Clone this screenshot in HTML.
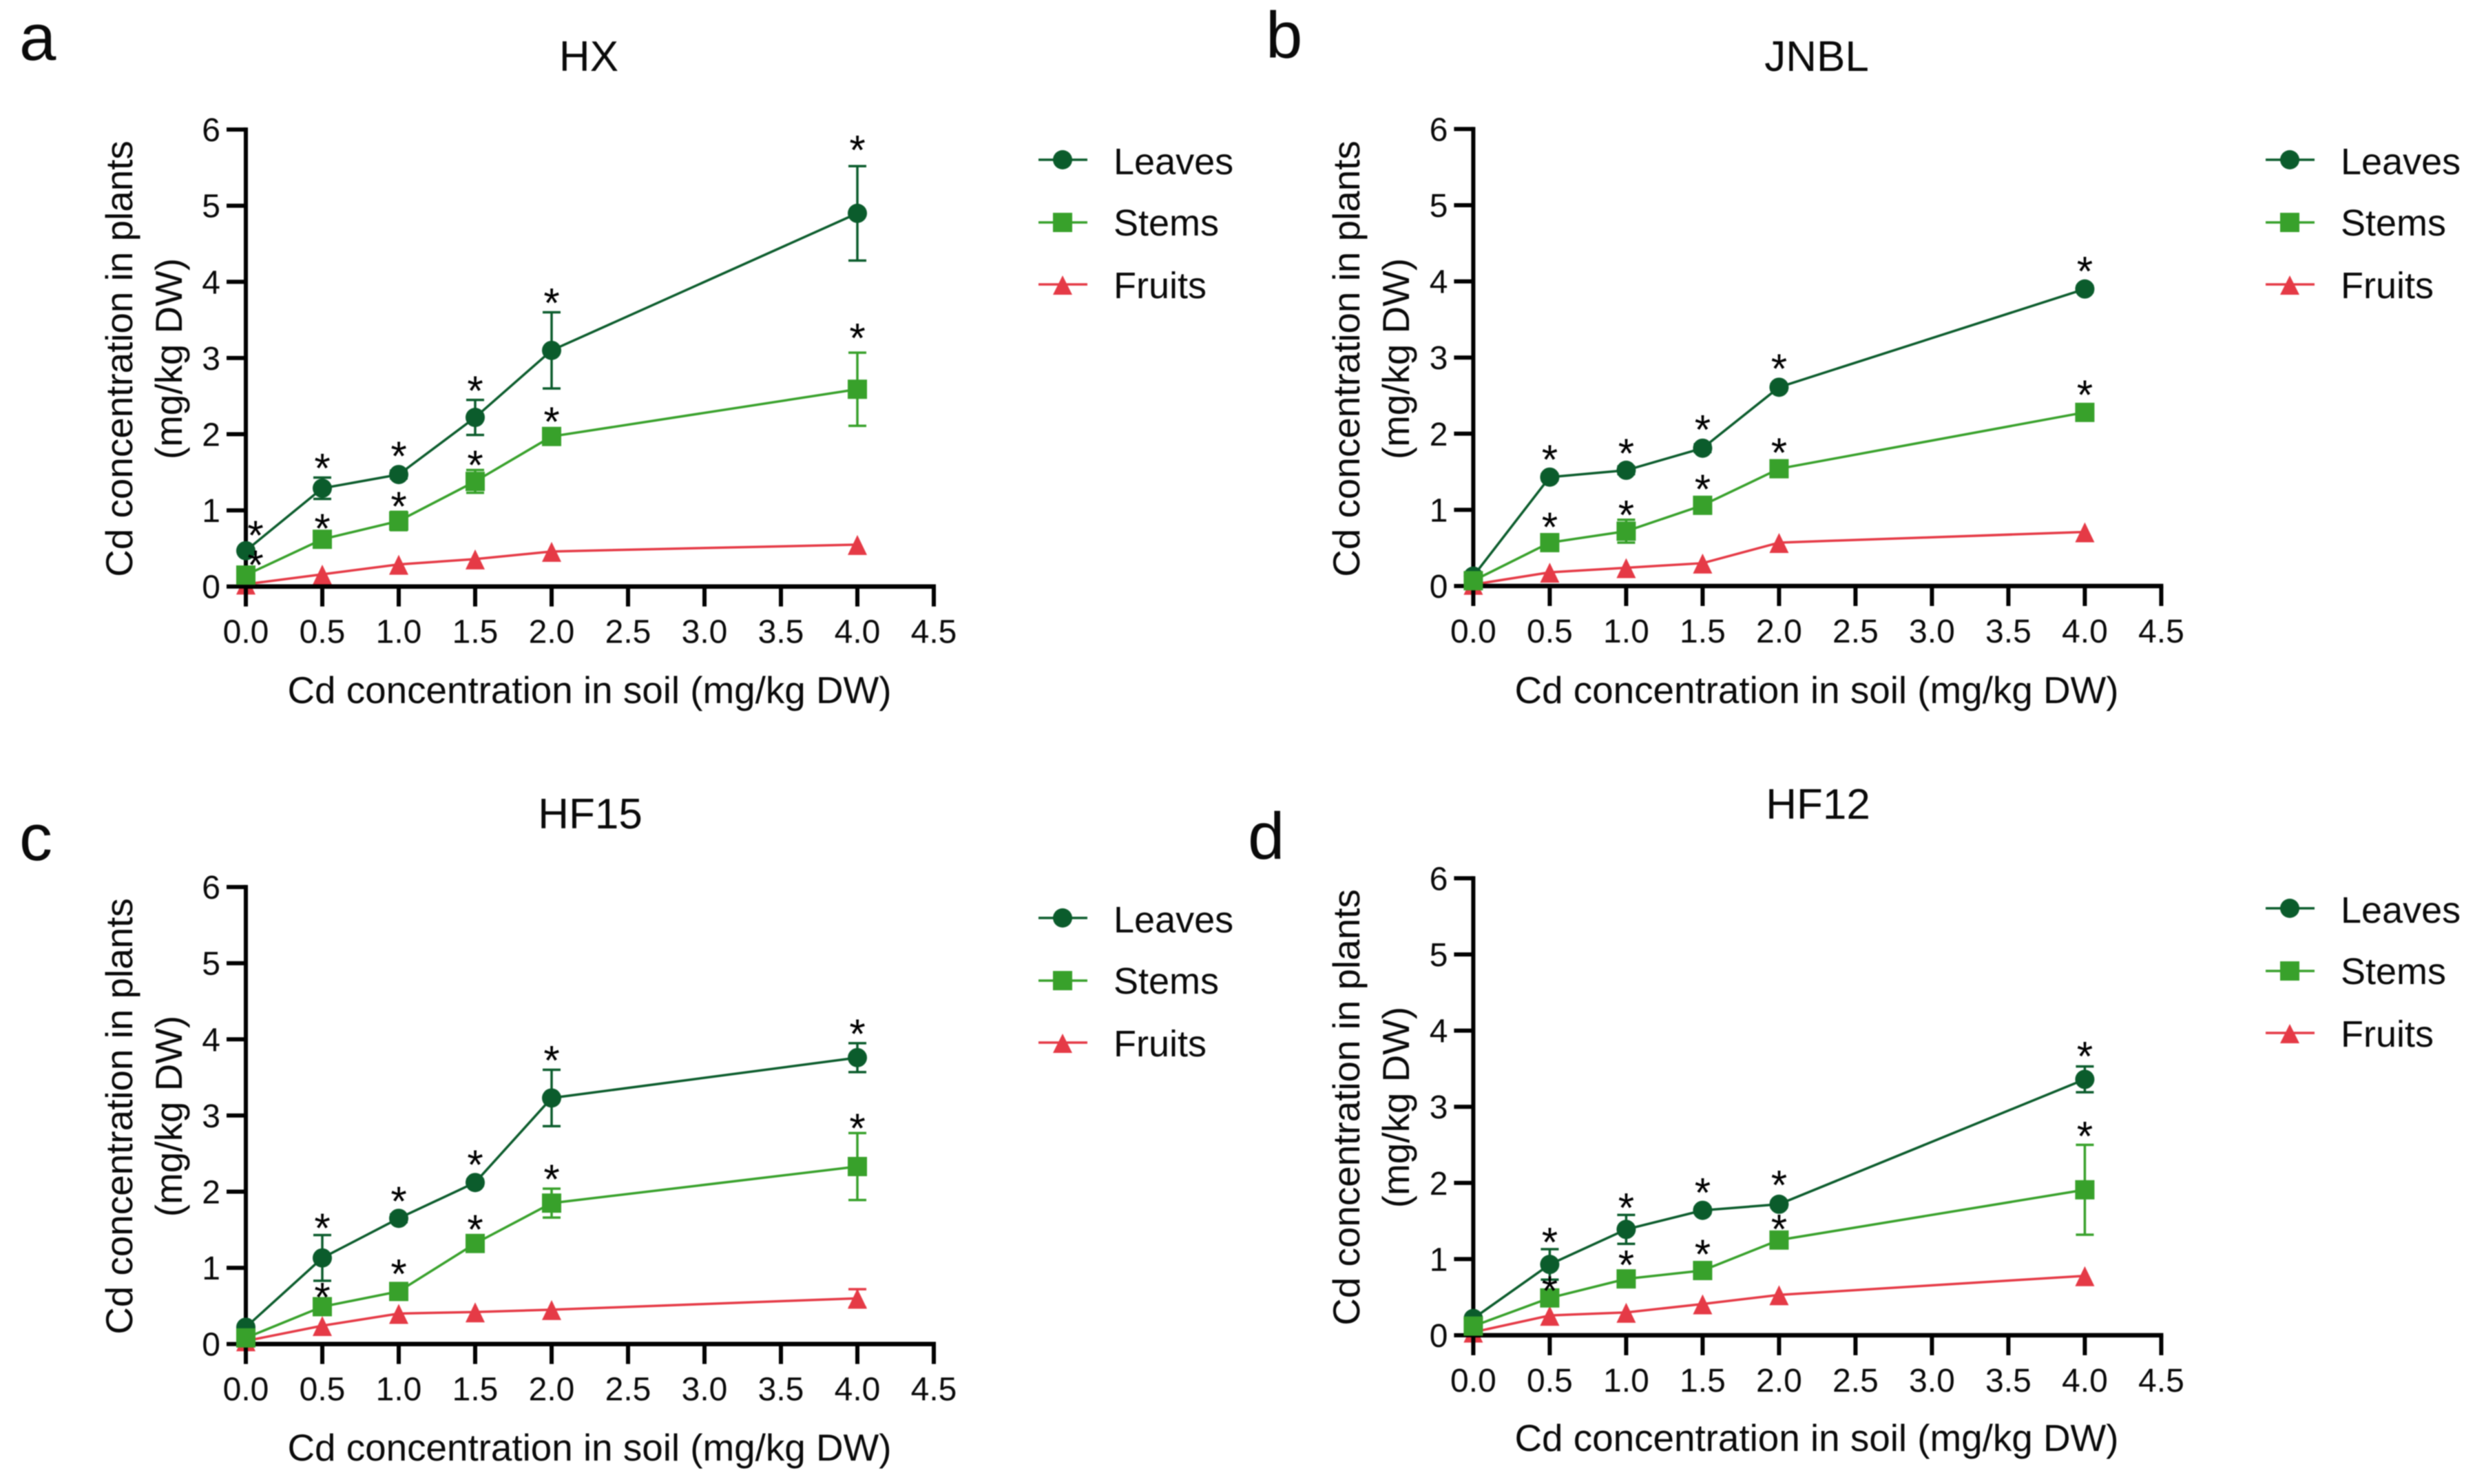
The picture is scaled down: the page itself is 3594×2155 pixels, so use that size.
<!DOCTYPE html>
<html lang="en">
<head>
<meta charset="utf-8">
<title>Cd concentration in plants</title>
<style>
html,body{margin:0;padding:0;background:#fff;width:3594px;height:2155px;overflow:hidden}
svg{display:block;filter:blur(0.7px)}
text{font-family:"Liberation Sans",Arial,sans-serif;fill:#0a0a0a}
.letter{font-size:96px}
.title{font-size:62px;text-anchor:middle}
.axis-title{font-size:54.8px;text-anchor:middle}
.legend-text{font-size:54px}
.tick{font-size:48px}
.star{font-size:60px;text-anchor:middle;fill:#000}
</style>
</head>
<body>
<svg id="figure" xmlns="http://www.w3.org/2000/svg" width="3594" height="2155" viewBox="0 0 3594 2155">
  <rect width="3594" height="2155" fill="#fff"/>

  <text class="letter" x="28" y="87">a</text>
  <text class="letter" x="1838" y="84">b</text>
  <text class="letter" x="28" y="1249">c</text>
  <text class="letter" x="1812" y="1247">d</text>

  <text class="title" x="855" y="103">HX</text>
  <text class="title" x="2638" y="103">JNBL</text>
  <text class="title" x="857" y="1203">HF15</text>
  <text class="title" x="2640" y="1189">HF12</text>

  <text class="axis-title" transform="translate(192 521) rotate(-90)">Cd concentration in plants</text>
  <text class="axis-title" transform="translate(264 521) rotate(-90)">(mg/kg DW)</text>
  <text class="axis-title" x="856" y="1021">Cd concentration in soil (mg/kg DW)</text>

  <text class="axis-title" transform="translate(1974 521) rotate(-90)">Cd concentration in plants</text>
  <text class="axis-title" transform="translate(2046 521) rotate(-90)">(mg/kg DW)</text>
  <text class="axis-title" x="2638" y="1021">Cd concentration in soil (mg/kg DW)</text>

  <text class="axis-title" transform="translate(192 1621) rotate(-90)">Cd concentration in plants</text>
  <text class="axis-title" transform="translate(264 1621) rotate(-90)">(mg/kg DW)</text>
  <text class="axis-title" x="856" y="2121">Cd concentration in soil (mg/kg DW)</text>

  <text class="axis-title" transform="translate(1974 1608) rotate(-90)">Cd concentration in plants</text>
  <text class="axis-title" transform="translate(2046 1608) rotate(-90)">(mg/kg DW)</text>
  <text class="axis-title" x="2638" y="2107">Cd concentration in soil (mg/kg DW)</text>

  <g>
    <g><line x1="1508" x2="1579" y1="232" y2="232" stroke="#0b5c2c" stroke-width="3.5"/><circle cx="1543" cy="232" r="14" fill="#0b5c2c"/><text class="legend-text" x="1617" y="253">Leaves</text></g>
    <g><line x1="1508" x2="1579" y1="323" y2="323" stroke="#38a12b" stroke-width="3.5"/><rect x="1529" y="309" width="28" height="28" fill="#38a12b"/><text class="legend-text" x="1617" y="342">Stems</text></g>
    <g><line x1="1508" x2="1579" y1="413" y2="413" stroke="#e53a46" stroke-width="3.5"/><polygon points="1543,400 1557,428 1529,428" fill="#e53a46"/><text class="legend-text" x="1617" y="433">Fruits</text></g>
  </g>
  <g transform="translate(1782 0)">
    <g><line x1="1508" x2="1579" y1="232" y2="232" stroke="#0b5c2c" stroke-width="3.5"/><circle cx="1543" cy="232" r="14" fill="#0b5c2c"/><text class="legend-text" x="1617" y="253">Leaves</text></g>
    <g><line x1="1508" x2="1579" y1="323" y2="323" stroke="#38a12b" stroke-width="3.5"/><rect x="1529" y="309" width="28" height="28" fill="#38a12b"/><text class="legend-text" x="1617" y="342">Stems</text></g>
    <g><line x1="1508" x2="1579" y1="413" y2="413" stroke="#e53a46" stroke-width="3.5"/><polygon points="1543,400 1557,428 1529,428" fill="#e53a46"/><text class="legend-text" x="1617" y="433">Fruits</text></g>
  </g>
  <g transform="translate(0 1101)">
    <g><line x1="1508" x2="1579" y1="232" y2="232" stroke="#0b5c2c" stroke-width="3.5"/><circle cx="1543" cy="232" r="14" fill="#0b5c2c"/><text class="legend-text" x="1617" y="253">Leaves</text></g>
    <g><line x1="1508" x2="1579" y1="323" y2="323" stroke="#38a12b" stroke-width="3.5"/><rect x="1529" y="309" width="28" height="28" fill="#38a12b"/><text class="legend-text" x="1617" y="342">Stems</text></g>
    <g><line x1="1508" x2="1579" y1="413" y2="413" stroke="#e53a46" stroke-width="3.5"/><polygon points="1543,400 1557,428 1529,428" fill="#e53a46"/><text class="legend-text" x="1617" y="433">Fruits</text></g>
  </g>
  <g transform="translate(1782 1087)">
    <g><line x1="1508" x2="1579" y1="232" y2="232" stroke="#0b5c2c" stroke-width="3.5"/><circle cx="1543" cy="232" r="14" fill="#0b5c2c"/><text class="legend-text" x="1617" y="253">Leaves</text></g>
    <g><line x1="1508" x2="1579" y1="323" y2="323" stroke="#38a12b" stroke-width="3.5"/><rect x="1529" y="309" width="28" height="28" fill="#38a12b"/><text class="legend-text" x="1617" y="342">Stems</text></g>
    <g><line x1="1508" x2="1579" y1="413" y2="413" stroke="#e53a46" stroke-width="3.5"/><polygon points="1543,400 1557,428 1529,428" fill="#e53a46"/><text class="legend-text" x="1617" y="433">Fruits</text></g>
  </g>
</svg>

<script>
// Shared axes and categories
const doses = [0, 0.5, 1, 1.5, 2, 4];
const xTickValues = [0, 0.5, 1, 1.5, 2, 2.5, 3, 3.5, 4, 4.5];
const xTickLabels = ['0.0', '0.5', '1.0', '1.5', '2.0', '2.5', '3.0', '3.5', '4.0', '4.5'];
const yTickValues = [0, 1, 2, 3, 4, 5, 6];
const yTickLabels = ['0', '1', '2', '3', '4', '5', '6'];

// HX
const hxLeaves = [0.47, 1.29, 1.47, 2.22, 3.10, 4.90];
const hxLeavesErr = [0.03, 0.14, 0.05, 0.23, 0.50, 0.62];
const hxLeavesStar = [0.26, 0.32, 0.30, 0.41, 0.68, 0.89];
const hxStems = [0.15, 0.62, 0.86, 1.38, 1.97, 2.59];
const hxStemsErr = [0.02, 0.10, 0.12, 0.15, 0.08, 0.48];
const hxStemsStar = [0.19, 0.20, 0.25, 0.27, 0.25, 0.73];
const hxFruits = [0.03, 0.16, 0.29, 0.36, 0.46, 0.55];
const hxFruitsErr = [0, 0, 0, 0, 0, 0];

// JNBL
const jnblLeaves = [0.13, 1.43, 1.52, 1.81, 2.61, 3.90];
const jnblLeavesErr = [0.02, 0.04, 0.05, 0.05, 0.04, 0.04];
const jnblLeavesStar = [null, 0.29, 0.28, 0.30, 0.30, 0.29];
const jnblStems = [0.07, 0.57, 0.72, 1.06, 1.54, 2.28];
const jnblStemsErr = [0.01, 0.05, 0.15, 0.05, 0.09, 0.05];
const jnblStemsStar = [null, 0.26, 0.27, 0.27, 0.27, 0.29];
const jnblFruits = [0.02, 0.18, 0.24, 0.30, 0.57, 0.71];
const jnblFruitsErr = [0, 0, 0, 0, 0, 0];

// HF15
const hf15Leaves = [0.22, 1.13, 1.65, 2.12, 3.23, 3.76];
const hf15LeavesErr = [0.03, 0.30, 0.05, 0.04, 0.37, 0.19];
const hf15LeavesStar = [null, 0.45, 0.28, 0.29, 0.55, 0.37];
const hf15Stems = [0.08, 0.49, 0.69, 1.32, 1.85, 2.33];
const hf15StemsErr = [0.01, 0.10, 0.08, 0.10, 0.19, 0.44];
const hf15StemsStar = [null, 0.18, 0.29, 0.24, 0.37, 0.56];
const hf15Fruits = [0.04, 0.24, 0.40, 0.42, 0.45, 0.60];
const hf15FruitsErr = [0, 0, 0, 0, 0, 0.12];

// HF12
const hf12Leaves = [0.22, 0.93, 1.39, 1.64, 1.72, 3.36];
const hf12LeavesErr = [0.03, 0.20, 0.19, 0.04, 0.04, 0.17];
const hf12LeavesStar = [null, 0.35, 0.34, 0.29, 0.31, 0.36];
const hf12Stems = [0.12, 0.49, 0.74, 0.85, 1.25, 1.91];
const hf12StemsErr = [0.02, 0.06, 0.08, 0.08, 0.08, 0.59];
const hf12StemsStar = [null, 0.15, 0.24, 0.27, 0.20, 0.76];
const hf12Fruits = [0.04, 0.26, 0.30, 0.41, 0.53, 0.78];
const hf12FruitsErr = [0, 0, 0, 0, 0, 0];

const NS = 'http://www.w3.org/2000/svg';
const figure = document.getElementById('figure');
const COLORS = { leaves: '#0b5c2c', stems: '#38a12b', fruits: '#e53a46' };

function svgEl(parent, tag, attrs) {
  const node = document.createElementNS(NS, tag);
  for (const key in attrs) node.setAttribute(key, attrs[key]);
  parent.appendChild(node);
  return node;
}

function drawAxes(panel, xScale, yScale) {
  const axisGroup = svgEl(panel, 'g', {});
  
  
  const yAxis = svgEl(axisGroup, 'line', { x1: xScale(0), x2: xScale(0), y1: yScale(6) - 3, y2: yScale(0) + 3, stroke: '#000', 'stroke-width': 6 });
  
  
  const xAxis = svgEl(axisGroup, 'line', { x1: xScale(0) - 3, x2: xScale(4.5) + 3, y1: yScale(0), y2: yScale(0), stroke: '#000', 'stroke-width': 6.5 });
  
  
  yTickValues.forEach(function (value, i) {
    const tick = svgEl(axisGroup, 'line', { x1: xScale(0) - 28, x2: xScale(0), y1: yScale(value), y2: yScale(value), stroke: '#000', 'stroke-width': 6 });
    
    
    const label = svgEl(axisGroup, 'text', { class: 'tick', x: xScale(0) - 37, y: yScale(value) + 17, 'text-anchor': 'end' });
    label.textContent = yTickLabels[i];
    
    
  });
  xTickValues.forEach(function (value, i) {
    const tick = svgEl(axisGroup, 'line', { x1: xScale(value), x2: xScale(value), y1: yScale(0), y2: yScale(0) + 29, stroke: '#000', 'stroke-width': 6 });
    
    
    const label = svgEl(axisGroup, 'text', { class: 'tick', x: xScale(value), y: yScale(0) + 82, 'text-anchor': 'middle' });
    label.textContent = xTickLabels[i];
    
    
  });
}

function drawSeries(panel, kind, values, errs, xScale, yScale) {
  const color = COLORS[kind];
  const group = svgEl(panel, 'g', {});
  
  
  const points = values.map(function (v, i) { return xScale(doses[i]) + ',' + yScale(v); }).join(' ');
  const path = svgEl(group, 'polyline', { points: points, fill: 'none', stroke: color, 'stroke-width': 3.5 });
  
  
  values.forEach(function (v, i) {
    const x = xScale(doses[i]);
    const y = yScale(v);
    if (errs[i] > 0) {
      const top = yScale(v + errs[i]);
      const bottom = yScale(v - errs[i]);
      const bar = svgEl(group, 'path', { d: 'M' + x + ' ' + top + 'V' + bottom + 'M' + (x - 13) + ' ' + top + 'H' + (x + 13) + 'M' + (x - 13) + ' ' + bottom + 'H' + (x + 13), fill: 'none', stroke: color, 'stroke-width': 3.5 });
      
      
    }
    let marker;
    if (kind === 'leaves') {
      marker = svgEl(group, 'circle', { cx: x, cy: y, r: 14, fill: color });
    } else if (kind === 'stems') {
      marker = svgEl(group, 'rect', { x: x - 14, y: y - 14, width: 28, height: 28, fill: color });
    } else {
      marker = svgEl(group, 'polygon', { points: x + ',' + (y - 14) + ' ' + (x + 14) + ',' + (y + 15) + ' ' + (x - 14) + ',' + (y + 15), fill: color });
    }
    
    
  });
}

function drawStars(panel, values, lifts, xScale, yScale, zeroShift) {
  lifts.forEach(function (lift, i) {
    if (lift === null) return;
    const x = xScale(doses[i]) + (doses[i] === 0 ? zeroShift : 0);
    const star = svgEl(panel, 'text', { class: 'star', x: x, y: yScale(values[i] + lift) + 27 });
    star.textContent = '*';
    
    
  });
}

function drawPanel(name, axisX, axisY, series) {
  const xScale = function (v) { return axisX + v * 222; };
  const yScale = function (v) { return axisY - v * 110.6; };
  const panel = svgEl(figure, 'g', {});
  
  
  drawSeries(panel, 'fruits', series.fruits, series.fruitsErr, xScale, yScale);
  drawAxes(panel, xScale, yScale);
  drawSeries(panel, 'leaves', series.leaves, series.leavesErr, xScale, yScale);
  drawSeries(panel, 'stems', series.stems, series.stemsErr, xScale, yScale);
  drawStars(panel, series.leaves, series.leavesStar, xScale, yScale, 14);
  drawStars(panel, series.stems, series.stemsStar, xScale, yScale, 14);
}

drawPanel('hx', 357, 851.7, { leaves: hxLeaves, leavesErr: hxLeavesErr, leavesStar: hxLeavesStar, stems: hxStems, stemsErr: hxStemsErr, stemsStar: hxStemsStar, fruits: hxFruits, fruitsErr: hxFruitsErr });
drawPanel('jnbl', 2139.4, 851, { leaves: jnblLeaves, leavesErr: jnblLeavesErr, leavesStar: jnblLeavesStar, stems: jnblStems, stemsErr: jnblStemsErr, stemsStar: jnblStemsStar, fruits: jnblFruits, fruitsErr: jnblFruitsErr });
drawPanel('hf15', 357, 1951.7, { leaves: hf15Leaves, leavesErr: hf15LeavesErr, leavesStar: hf15LeavesStar, stems: hf15Stems, stemsErr: hf15StemsErr, stemsStar: hf15StemsStar, fruits: hf15Fruits, fruitsErr: hf15FruitsErr });
drawPanel('hf12', 2139.4, 1939, { leaves: hf12Leaves, leavesErr: hf12LeavesErr, leavesStar: hf12LeavesStar, stems: hf12Stems, stemsErr: hf12StemsErr, stemsStar: hf12StemsStar, fruits: hf12Fruits, fruitsErr: hf12FruitsErr });
</script>
</body>
</html>
